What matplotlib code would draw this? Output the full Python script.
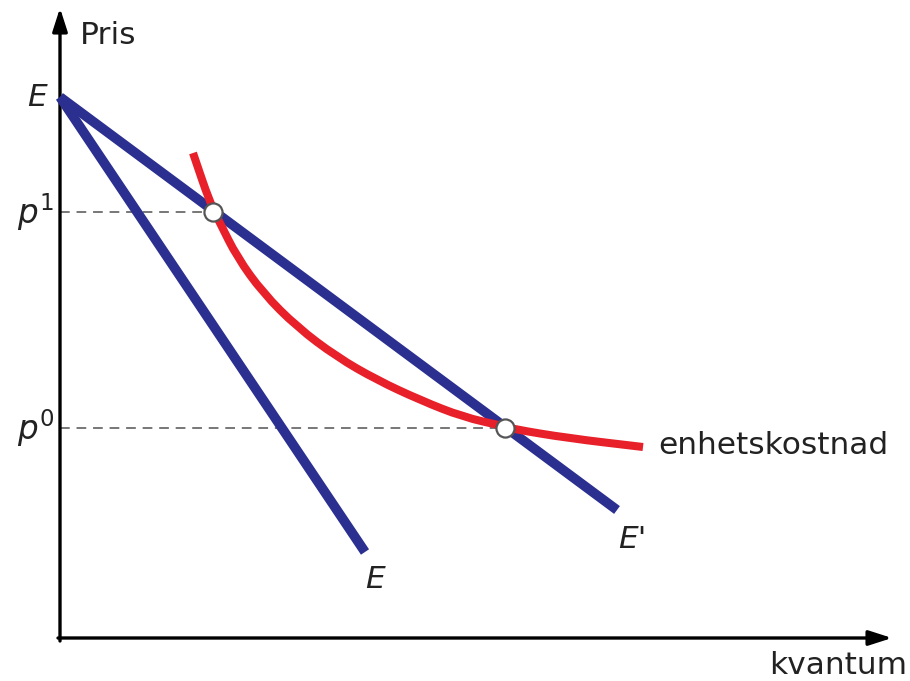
import matplotlib
matplotlib.use("Agg")
import matplotlib.pyplot as plt
from matplotlib.path import Path
from matplotlib.patches import PathPatch

plt.rcParams['font.family'] = ['DejaVu Sans']
plt.rcParams['mathtext.fontset'] = 'dejavusans'

# ---- data (origin at the axes' crossing) ----
price_intercept = 541
line_E_x = [0, 305]
line_E_y = [541, 86]
line_E2_x = [0, 557]
line_E2_y = [541, 128]
q1, p1 = 153, 426
q0, p0 = 445, 210
cost_x = [133, 150, 160, 177, 203, 237, 277, 317, 360, 403, 443, 453, 507, 583]
cost_y = [485, 435, 415, 381, 345, 311, 281, 258, 238, 221, 212, 209, 200, 191]
x_label = "kvantum"
y_label = "Pris"
curve_label = "enhetskostnad"

BLUE = "#2b2f8f"
RED = "#e8202a"
TXT = "#222222"

fig = plt.figure(figsize=(9.10, 6.81), dpi=100)
ax = fig.add_axes([0, 0, 1, 1])
ax.set_xlim(-60, 850)
ax.set_ylim(-43, 638)
ax.axis('off')

# axes with arrows
ax.annotate("", xy=(0, 630), xytext=(0, -3),
            arrowprops=dict(arrowstyle="-|>,head_length=1.4,head_width=0.45",
                            lw=2.4, color="black", shrinkA=0, shrinkB=0))
ax.annotate("", xy=(832, 0), xytext=(-2, 0),
            arrowprops=dict(arrowstyle="-|>,head_length=1.4,head_width=0.45",
                            lw=2.4, color="black", shrinkA=0, shrinkB=0))

# dashed guides
ax.plot([0, q1], [p1, p1], ls=(0, (5, 3.5)), color="#777777", lw=1.4, zorder=2)
ax.plot([0, q0], [p0, p0], ls=(0, (5, 3.5)), color="#777777", lw=1.4, zorder=2)

# lines
ax.plot(line_E_x, line_E_y, color=BLUE, lw=7, solid_capstyle='butt', zorder=3)
ax.plot(line_E2_x, line_E2_y, color=BLUE, lw=7, solid_capstyle='butt', zorder=3)

# smooth cost curve: quadratic Bezier segments through the read points
pts = list(zip(cost_x, cost_y))
verts = [pts[0]]
codes = [Path.MOVETO]
mid0 = ((pts[0][0] + pts[1][0]) / 2, (pts[0][1] + pts[1][1]) / 2)
verts.append(mid0)
codes.append(Path.LINETO)
for i in range(1, len(pts) - 1):
    nxt = ((pts[i][0] + pts[i + 1][0]) / 2, (pts[i][1] + pts[i + 1][1]) / 2)
    verts += [pts[i], nxt]
    codes += [Path.CURVE3, Path.CURVE3]
verts.append(pts[-1])
codes.append(Path.LINETO)
ax.add_patch(PathPatch(Path(verts, codes), facecolor='none', edgecolor=RED,
                       lw=5.8, capstyle='butt', joinstyle='round', zorder=4))

# points
ax.scatter([q1, q0], [p1, p0], s=170, facecolor="white", edgecolor="#555555",
           linewidth=1.6, zorder=6)

# labels
fs = 22.5
ax.text(20, 603, y_label, fontsize=fs, color=TXT, ha='left', va='center')
ax.text(-13, price_intercept, "E", fontsize=fs, style='italic', color=TXT,
        ha='right', va='center')
ax.text(-6, p1, r"$p^{1}$", fontsize=fs + 1, color=TXT, ha='right', va='center')
ax.text(-6, p0, r"$p^{0}$", fontsize=fs + 1, color=TXT, ha='right', va='center')
ax.text(line_E_x[1] + 10, line_E_y[1] - 27, "E", fontsize=fs, style='italic',
        color=TXT, ha='center', va='center')
ax.text(line_E2_x[1] + 15, line_E2_y[1] - 30, "E'", fontsize=fs, style='italic',
        color=TXT, ha='center', va='center')
ax.text(cost_x[-1] + 15, cost_y[-1] + 2, curve_label, fontsize=fs, color=TXT,
        ha='left', va='center')
ax.text(847, -28, x_label, fontsize=fs, color=TXT, ha='right', va='center')

fig.savefig("out.png", dpi=100)
